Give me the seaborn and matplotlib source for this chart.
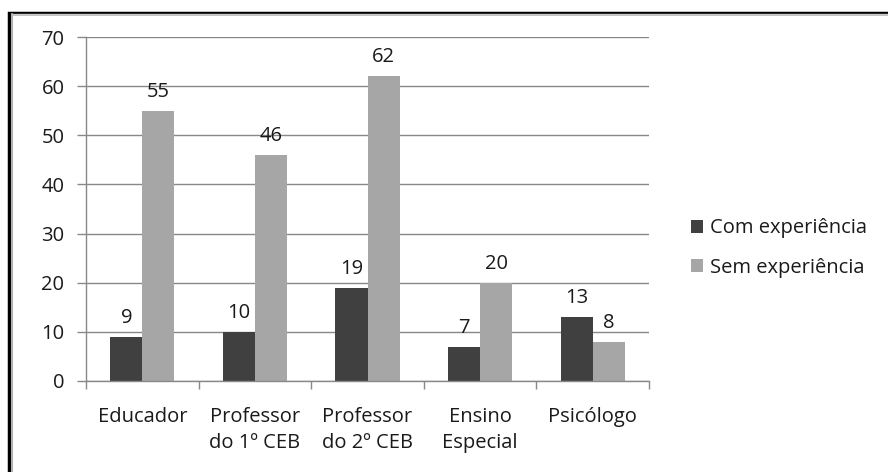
import matplotlib
matplotlib.use("Agg")
import matplotlib.pyplot as plt
import seaborn as sns
import pandas as pd
from matplotlib.patches import Patch, Rectangle

categories = ["Educador", "Professor\ndo 1º CEB", "Professor\ndo 2º CEB", "Ensino\nEspecial", "Psicólogo"]
series_names = ["Com experiência", "Sem experiência"]
com_experiencia = [9, 10, 19, 7, 13]
sem_experiencia = [55, 46, 62, 20, 8]
y_ticks = [0, 10, 20, 30, 40, 50, 60, 70]

colors = ["#404040", "#a6a6a6"]
text_color = "#1a1a1a"
fs = 14.5

df = pd.DataFrame({
    "categoria": categories * 2,
    "serie": [series_names[0]] * len(categories) + [series_names[1]] * len(categories),
    "valor": com_experiencia + sem_experiencia,
})

sns.set_style("white")
plt.rcParams["font.family"] = ["Open Sans", "DejaVu Sans"]

fig = plt.figure(figsize=(8.88, 4.72), dpi=100)
ax = fig.add_axes([86 / 888, 1 - 381 / 472, (649 - 86) / 888, (381 - 37) / 472])

sns.barplot(data=df, x="categoria", y="valor", hue="serie", order=categories,
            hue_order=series_names, palette=colors, width=0.57, gap=0,
            saturation=1, edgecolor="none", linewidth=0, ax=ax, legend=False)

for container in ax.containers:
    ax.bar_label(container, padding=6.5, fontsize=fs, color=text_color)

ax.set_ylim(0, 70)
ax.set_xlim(-0.5, len(categories) - 0.5)
ax.set_yticks(y_ticks)
ax.yaxis.grid(True, color="#888888", linewidth=1)
ax.set_axisbelow(True)
ax.set_xlabel("")
ax.set_ylabel("")

for side in ["top", "right"]:
    ax.spines[side].set_visible(False)
for side in ["left", "bottom"]:
    ax.spines[side].set_color("#888888")
    ax.spines[side].set_linewidth(1)

ax.tick_params(axis="y", which="major", left=True, length=6.5, width=1, color="#888888",
               labelsize=fs, labelcolor=text_color, pad=9)
ax.set_xticks(range(len(categories)))
ax.tick_params(axis="x", which="major", bottom=True, length=0, labelsize=fs,
               labelcolor=text_color, pad=19)
ax.set_xticks([i - 0.5 for i in range(len(categories) + 1)], minor=True)
ax.tick_params(axis="x", which="minor", bottom=True, length=5.5, width=1, color="#888888")
for lbl in ax.get_xticklabels():
    lbl.set_linespacing(1.38)

handles = [Patch(facecolor=c, edgecolor="none") for c in colors]
fig.legend(handles, series_names, loc="center left", bbox_to_anchor=(681 / 888, 1 - 248 / 472),
           frameon=False, fontsize=fs, handlelength=0.6, handleheight=0.6,
           handletextpad=0.35, labelspacing=0.95, labelcolor=text_color, borderpad=0)

# outer frame of the chart area
fig.add_artist(Rectangle((9 / 888, -0.05), 1.1, 1 - 12.5 / 472 + 0.05, transform=fig.transFigure,
                         fill=False, edgecolor="black", linewidth=2.5))
fig.add_artist(plt.Line2D([11.5 / 888, 11.5 / 888], [0, 1 - 14 / 472], transform=fig.transFigure,
                          color="#b0b0b0", linewidth=1.5))
fig.add_artist(plt.Line2D([11.5 / 888, 1], [1 - 14 / 472, 1 - 14 / 472], transform=fig.transFigure,
                          color="#c8c8c8", linewidth=1))

fig.savefig("out.png", dpi=100)
